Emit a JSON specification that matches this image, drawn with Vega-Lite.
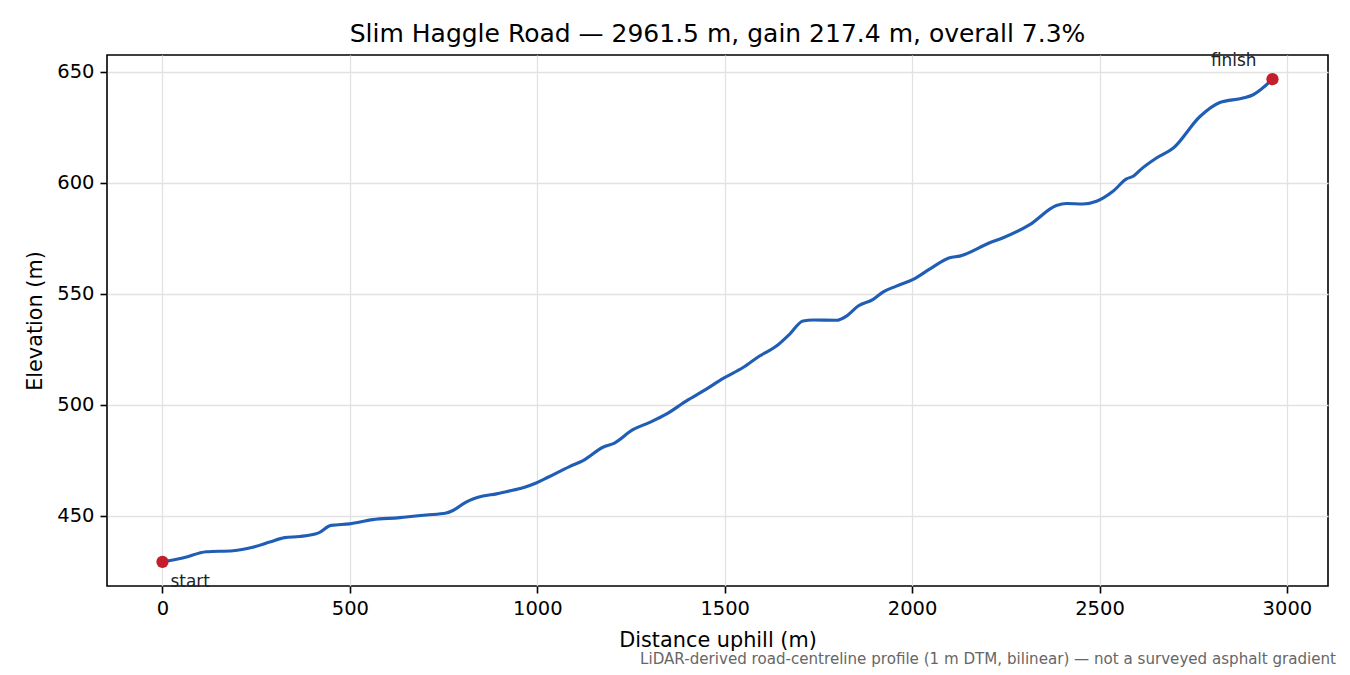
{
  "$schema": "https://vega.github.io/schema/vega-lite/v6.json",
  "autosize": {"type": "none"},
  "padding": {"left": 107, "top": 55, "right": 22, "bottom": 89},
  "width": 1221,
  "height": 531,
  "background": "white",
  "title": {
    "text": "Slim Haggle Road — 2961.5 m, gain 217.4 m, overall 7.3%",
    "font": "DejaVu Sans",
    "fontSize": 25,
    "fontWeight": "normal",
    "color": "black",
    "anchor": "middle",
    "offset": 5
  },
  "config": {
    "view": {"stroke": "black", "strokeWidth": 1.6},
    "axis": {
      "labelFont": "DejaVu Sans",
      "labelFontSize": 19.5,
      "labelColor": "black",
      "titleFont": "DejaVu Sans",
      "titleFontSize": 20.8,
      "titleFontWeight": "normal",
      "titleColor": "black",
      "tickColor": "black",
      "tickSize": 7,
      "tickWidth": 1.6,
      "labelPadding": 6,
      "domain": false,
      "gridColor": "#e2e2e2",
      "gridWidth": 1.3
    }
  },
  "datasets": {
    "profile": [
      {"d": 0, "e": 429.3}, {"d": 54, "e": 431.0}, {"d": 117, "e": 433.8},
      {"d": 188, "e": 434.3}, {"d": 241, "e": 435.9}, {"d": 286, "e": 438.2},
      {"d": 326, "e": 440.2}, {"d": 366, "e": 440.7}, {"d": 415, "e": 442.2},
      {"d": 450, "e": 445.7}, {"d": 499, "e": 446.4}, {"d": 561, "e": 448.3},
      {"d": 633, "e": 449.2}, {"d": 650, "e": 449.5}, {"d": 704, "e": 450.4},
      {"d": 757, "e": 451.3}, {"d": 775, "e": 452.4}, {"d": 810, "e": 456.2},
      {"d": 855, "e": 458.9}, {"d": 891, "e": 459.9}, {"d": 917, "e": 460.9},
      {"d": 966, "e": 462.9}, {"d": 997, "e": 464.8}, {"d": 1030, "e": 467.5},
      {"d": 1086, "e": 472.2}, {"d": 1122, "e": 474.9}, {"d": 1175, "e": 480.9},
      {"d": 1206, "e": 482.8}, {"d": 1255, "e": 488.8}, {"d": 1300, "e": 492.1},
      {"d": 1344, "e": 495.8}, {"d": 1398, "e": 501.8}, {"d": 1451, "e": 507.1},
      {"d": 1496, "e": 511.9}, {"d": 1549, "e": 516.8}, {"d": 1593, "e": 522.0},
      {"d": 1638, "e": 526.5}, {"d": 1673, "e": 531.8}, {"d": 1709, "e": 537.8},
      {"d": 1736, "e": 538.2}, {"d": 1798, "e": 538.1}, {"d": 1825, "e": 540.0},
      {"d": 1856, "e": 544.5}, {"d": 1896, "e": 547.5}, {"d": 1922, "e": 550.8},
      {"d": 1958, "e": 553.5}, {"d": 2003, "e": 556.5}, {"d": 2050, "e": 561.5},
      {"d": 2100, "e": 566.3}, {"d": 2127, "e": 567.0}, {"d": 2207, "e": 573.0},
      {"d": 2243, "e": 575.3}, {"d": 2314, "e": 581.2}, {"d": 2385, "e": 589.8},
      {"d": 2412, "e": 590.7}, {"d": 2456, "e": 590.5}, {"d": 2492, "e": 591.7},
      {"d": 2536, "e": 596.2}, {"d": 2572, "e": 601.8}, {"d": 2590, "e": 603.0},
      {"d": 2612, "e": 606.3}, {"d": 2652, "e": 611.2}, {"d": 2697, "e": 615.7},
      {"d": 2768, "e": 629.9}, {"d": 2821, "e": 636.2}, {"d": 2883, "e": 638.2},
      {"d": 2910, "e": 639.7}, {"d": 2961.5, "e": 646.7}
    ],
    "ends": [
      {"d": 0, "e": 429.3, "label": "start"},
      {"d": 2961.5, "e": 646.7, "label": "finish"}
    ],
    "notes": [
      {"d": 3109.6, "e": 418.4, "note": "LiDAR-derived road-centreline profile (1 m DTM, bilinear) — not a surveyed asphalt gradient"}
    ]
  },
  "layer": [
    {
      "data": {"name": "profile"},
      "mark": {"type": "line", "color": "#1f5eb4", "strokeWidth": 3.1, "interpolate": "monotone"},
      "encoding": {
        "x": {
          "field": "d",
          "type": "quantitative",
          "scale": {"domain": [-148, 3109.6], "nice": false, "zero": false},
          "axis": {"title": "Distance uphill (m)", "format": "d", "values": [0, 500, 1000, 1500, 2000, 2500, 3000], "titlePadding": 13}
        },
        "y": {
          "field": "e",
          "type": "quantitative",
          "scale": {"domain": [418.4, 657.6], "nice": false, "zero": false},
          "axis": {"title": "Elevation (m)", "format": "d", "values": [450, 500, 550, 600, 650], "titlePadding": 11}
        }
      }
    },
    {
      "data": {"name": "ends"},
      "mark": {"type": "point", "filled": true, "color": "#c41e2a", "opacity": 1, "size": 150},
      "encoding": {
        "x": {"field": "d", "type": "quantitative"},
        "y": {"field": "e", "type": "quantitative"}
      }
    },
    {
      "data": {"name": "ends"},
      "transform": [{"filter": "datum.label === 'start'"}],
      "mark": {"type": "text", "align": "left", "baseline": "alphabetic", "dx": 8, "dy": 25, "font": "DejaVu Sans", "fontSize": 16.9, "color": "#222222"},
      "encoding": {
        "x": {"field": "d", "type": "quantitative"},
        "y": {"field": "e", "type": "quantitative"},
        "text": {"field": "label"}
      }
    },
    {
      "data": {"name": "ends"},
      "transform": [{"filter": "datum.label === 'finish'"}],
      "mark": {"type": "text", "align": "right", "baseline": "alphabetic", "dx": -16, "dy": -13, "font": "DejaVu Sans", "fontSize": 16.9, "color": "#222222"},
      "encoding": {
        "x": {"field": "d", "type": "quantitative"},
        "y": {"field": "e", "type": "quantitative"},
        "text": {"field": "label"}
      }
    },
    {
      "data": {"name": "notes"},
      "mark": {"type": "text", "align": "right", "baseline": "alphabetic", "dx": 8, "dy": 78, "font": "DejaVu Sans", "fontSize": 15.1, "color": "#666666"},
      "encoding": {
        "x": {"field": "d", "type": "quantitative"},
        "y": {"field": "e", "type": "quantitative"},
        "text": {"field": "note"}
      }
    }
  ]
}
